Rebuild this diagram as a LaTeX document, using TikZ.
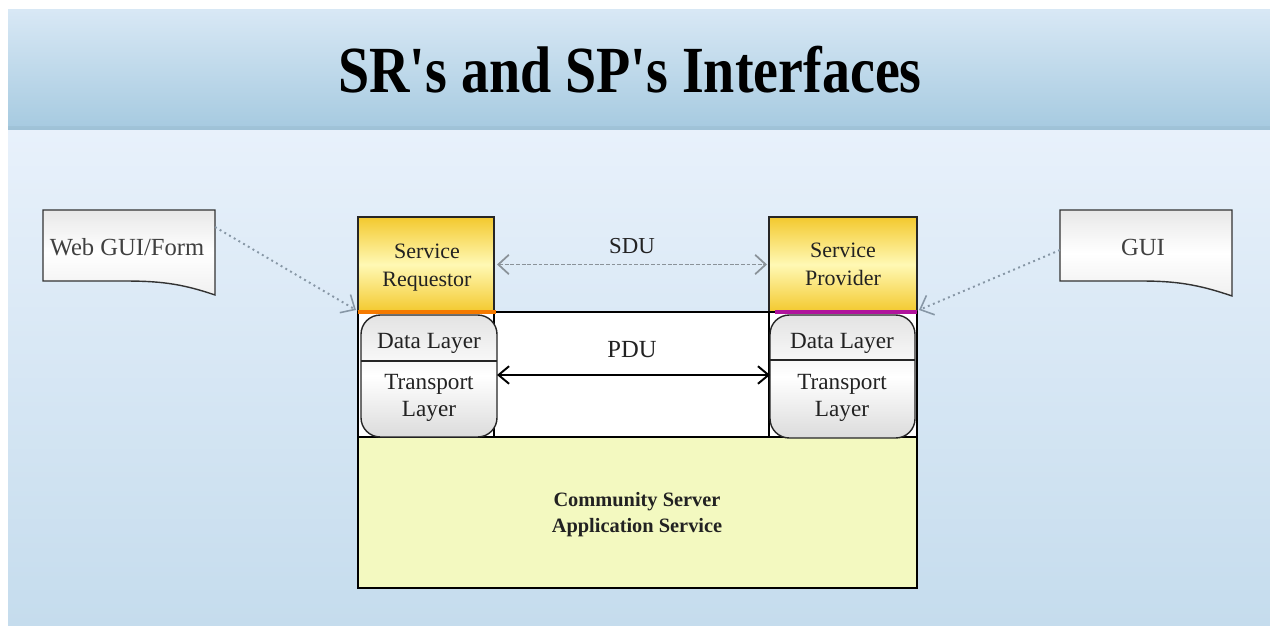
\documentclass[tikz,border=0pt]{standalone}
\usepackage{fontspec}
\setmainfont{Liberation Serif}
\usetikzlibrary{arrows.meta,fit,calc}

\definecolor{bandtop}{HTML}{D8E8F5}
\definecolor{bandbot}{HTML}{A6CAE0}
\definecolor{bgtop}{HTML}{E8F1FB}
\definecolor{bgbot}{HTML}{C5DCED}
\definecolor{goldedge}{HTML}{F3C92E}
\definecolor{goldmid}{HTML}{FFF8B4}
\definecolor{appfill}{HTML}{F3F9C0}
\definecolor{reqline}{HTML}{F57A00}
\definecolor{provline}{HTML}{B0149C}
\definecolor{linkgray}{HTML}{8797A6}
\definecolor{sdugray}{HTML}{8A9299}
\definecolor{ink}{HTML}{222222}

\begin{document}
\begin{tikzpicture}[x=0.02cm,y=-0.02cm,
  area/.style={inner sep=0pt, outer sep=0pt},
  svcbox/.style={draw=black!85, line width=0.7pt,
    top color=goldedge, bottom color=goldedge, middle color=goldmid},
  layerbox/.style={draw=black!85, line width=0.8pt, rounded corners=11pt,
    top color=gray!22, bottom color=gray!28, middle color=white},
  docshade/.style={draw=black!80, line width=0.8pt,
    top color=gray!18, bottom color=gray!12, middle color=white},
  label/.style={font=\fontsize{12.5}{16}\selectfont, text=ink, align=center, inner sep=0pt},
  layerlabel/.style={label, font=\fontsize{13.2}{15.5}\selectfont},
  doclabel/.style={font=\fontsize{14}{16}\selectfont, text=black!75, inner sep=0pt},
  dotlink/.style={draw=linkgray, line width=1.1pt, dash pattern=on 1.1pt off 2pt,
    -{Straight Barb[length=6.5pt,width=12pt,line width=0.9pt]}},
  sdulink/.style={draw=sdugray, line width=0.9pt, dash pattern=on 2.2pt off 1pt,
    {Straight Barb[length=6pt,width=11pt,line width=1pt]}-{Straight Barb[length=6pt,width=11pt,line width=1pt]}},
  pdulink/.style={draw=black, line width=1.1pt,
    {Straight Barb[length=6pt,width=10pt]}-{Straight Barb[length=6pt,width=10pt]}}
]
\useasboundingbox (0,0) rectangle (1270,625);

% slide background and title band
\shade[top color=bgtop, bottom color=bgbot] (8,130) rectangle (1270,625);
\shade[top color=bandtop, bottom color=bandbot] (8,10) rectangle (1270,129);
\fill[bandbot!85!black, opacity=0.25] (8,126) rectangle (1270,130);

\node[font=\bfseries\fontsize{37.5}{40}\selectfont, text=black, inner sep=0pt] (title) at (630,70)
  {\scalebox{0.85}[1]{SR\textquotesingle s and SP\textquotesingle s Interfaces}};

% application layer and the link area above it
\node[fit={(358,437) (917,588)}, area, fill=appfill] (app) {};
\node[fit={(358,312) (917,437)}, area, fill=white] (link) {};
\draw[black, line width=1pt] (app.north west) -- (app.north east);

% endpoints
\node[fit={(358,217) (494,312)}, area, svcbox] (sr) {};
\node[fit={(769,217) (917,312)}, area, svcbox] (sp) {};

\draw[black, line width=0.9pt] (sr.south east) -- (sr.south east |- app.north);
\draw[black, line width=0.9pt] (sp.south west) -- (sp.south west |- app.north);

% protocol stacks
\node[fit={(361,315) (497,437)}, area, layerbox] (stackL) {};
\node[fit={(770,315) (915,438)}, area, layerbox] (stackR) {};
\draw[black!85, line width=0.8pt] (stackL.west |- 0,361) -- (stackL.east |- 0,361);
\draw[black!85, line width=0.8pt] (stackR.west |- 0,360) -- (stackR.east |- 0,360);

% outer frame
\node[fit={(358,312) (917,588)}, area, draw=black, line width=1.2pt] (frame) {};

% interface bars
\draw[reqline, line width=2.6pt] (sr.south west) -- ($(sr.south east)+(2,0)$);
\draw[provline, line width=2.6pt] ($(sp.south west)+(6,0)$) -- (sp.south east);

% front ends
\node[fit={(43,210) (215,295)}, area] (webgui) {};
\shade[docshade] (webgui.north west) -- (webgui.north east) -- (webgui.south east)
  .. controls ($(webgui.south east)+(-35,-12)$) and ($(webgui.south west)+(115,-14)$)
  .. ($(webgui.south west)+(80,-14)$) -- ($(webgui.south west)+(0,-14)$) -- cycle;
\node[doclabel] (webguitext) at ($(webgui.center)+(-2,-5)$) {Web GUI/Form};

\node[fit={(1060,210) (1232,296)}, area] (gui) {};
\shade[docshade] (gui.north west) -- (gui.north east) -- (gui.south east)
  .. controls ($(gui.south east)+(-35,-12)$) and ($(gui.south west)+(115,-15)$)
  .. ($(gui.south west)+(80,-15)$) -- ($(gui.south west)+(0,-15)$) -- cycle;
\node[doclabel] (guitext) at ($(gui.center)+(-3,-6)$) {GUI};

% connectors
\draw[dotlink] ($(webgui.north east)+(0,17)$) -- ($(sr.south west)+(-2,-2)$);
\draw[dotlink] ($(gui.west)+(0,-3)$) -- ($(sp.south east)+(2,-2)$);
\draw[sdulink] ($(sr.east)+(3,0)$) -- ($(sp.west)+(-2,0)$);
\draw[pdulink] (stackL.east |- 0,375) -- (stackR.west |- 0,375);

% labels
\node[label] (srtext) at (427,268) {Service\\Requestor};
\node[label] (sptext) at (843,264) {Service\\Provider};
\node[label, font=\fontsize{13}{14}\selectfont] (sdutext) at (632,246) {SDU};
\node[label, font=\fontsize{14}{16}\selectfont] (pdutext) at (632,350) {PDU};
\node[layerlabel] (dlL) at (429,343) {Data Layer};
\node[layerlabel] (tlL) at (429,398) {Transport\\Layer};
\node[layerlabel] (dlR) at (842,343) {Data Layer};
\node[layerlabel] (tlR) at (842,398) {Transport\\Layer};
\node[label, font=\bfseries\fontsize{11.6}{14.7}\selectfont] (apptext) at (637,515)
  {Community Server\\Application Service};
\end{tikzpicture}
\end{document}
